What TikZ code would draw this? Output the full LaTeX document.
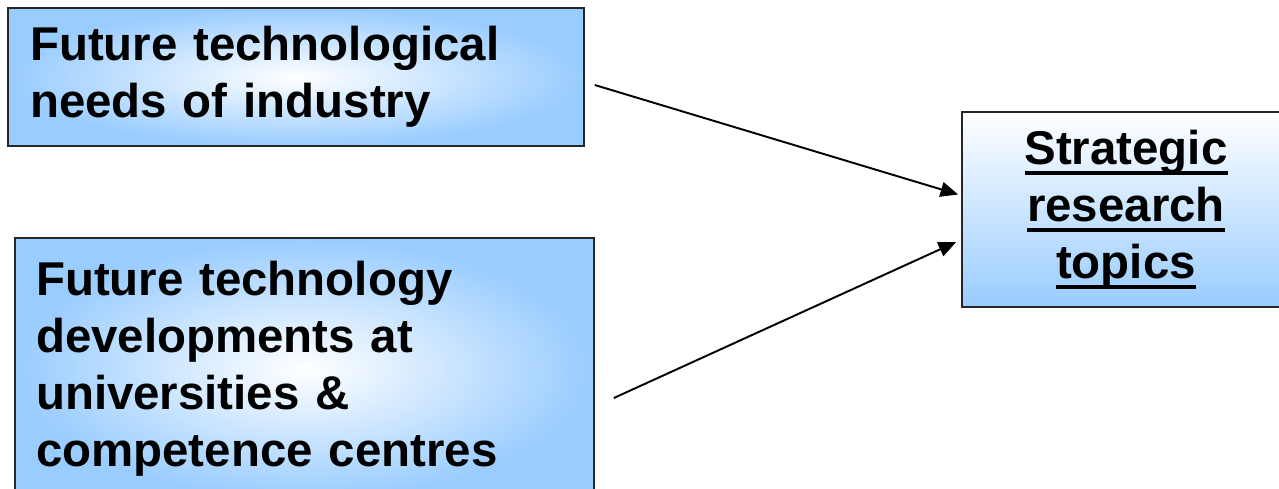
\documentclass[tikz,border=0pt]{standalone}
\usepackage{fontspec}
\setmainfont{Liberation Sans}
\usepackage{tikz}
\usetikzlibrary{arrows}
\usetikzlibrary{arrows.meta}
\definecolor{boxblue}{RGB}{153,204,255}
\newcommand{\ulword}[1]{\setbox0\hbox{#1}\rlap{\rule[-5.8pt]{\wd0}{2.1pt}}\box0}
\tikzset{
	main box/.style={rectangle,draw=black!85,line width=1pt,
		font=\fontsize{27}{32.4}\selectfont\bfseries},
	glow box/.style={main box,inner color=white,outer color=boxblue,align=left},
	goal box/.style={main box,top color=white,bottom color=boxblue,align=center}
}

\begin{document}
\begin{tikzpicture}[x=0.02cm,y=-0.02cm,
       >={Triangle[length=10pt,width=8.5pt]},line width=1.1pt]
	\useasboundingbox (0,0) rectangle (1279,488);
	% the three boxes
	\node [glow box,minimum width=11.52cm,minimum height=2.76cm,inner xsep=0.44cm,text width=10.64cm] (1) at (296,77)
		{Future technological\\needs of industry};
	\node [glow box,minimum width=11.58cm,minimum height=5.24cm,inner xsep=0.42cm,text width=10.74cm] (2) at (304.5,369)
		{Future technology\\developments at\\universities \&\\competence centres};
	\node [goal box,minimum width=6.56cm,minimum height=3.9cm] (3) at (1126,209.5)
		{\ulword{Strategic}\\\ulword{research}\\\ulword{topics}};
	% arrows into the goal box
	\coordinate (1a) at ([shift={(10,8)}]1.east);
	\coordinate (2a) at ([shift={(19,29)}]2.east);
	\draw [->] (1a) -- ([shift={(-3,-15)}]3.west);
	\draw [->] (2a) -- ([shift={(-5,32.5)}]3.west);
\end{tikzpicture}
\end{document}
